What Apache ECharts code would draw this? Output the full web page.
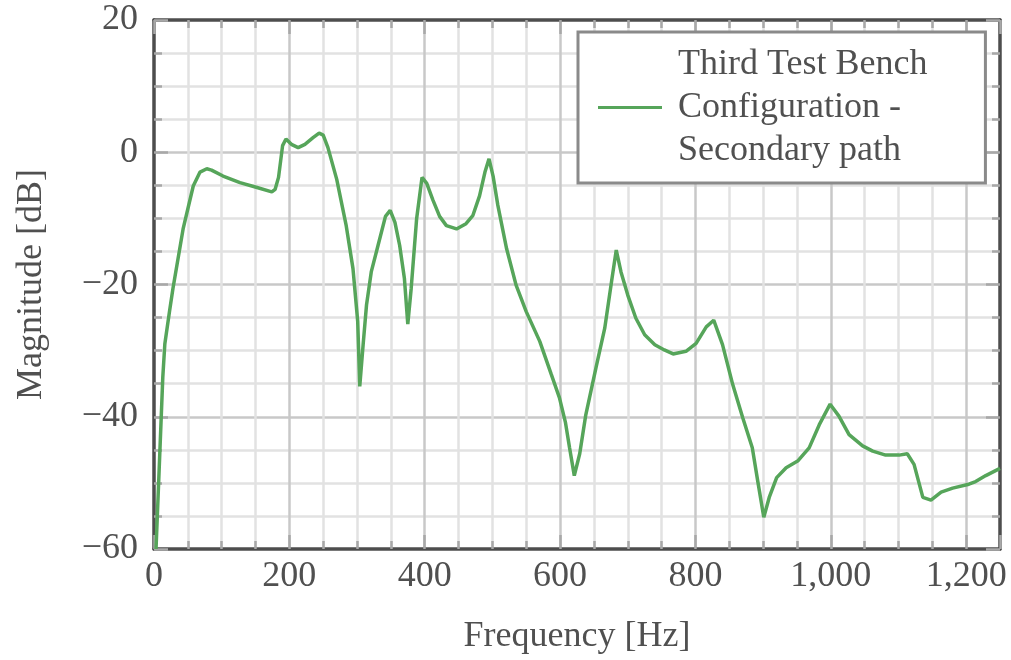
<!DOCTYPE html>
<html lang="en">
<head>
    <meta charset="UTF-8">
    <title>Secondary path</title>
    <style>
        html, body { margin: 0; padding: 0; background: #fff; }
        #chart { width: 1011px; height: 660px; }
    </style>
    <script src="https://cdn.jsdelivr.net/npm/echarts@6/dist/echarts.min.js"></script>
</head>
<body>
    <div id="chart"></div>
    <script>
        // data
        const seriesName = 'Third Test Bench\nConfiguration -\nSecondary path';
        const freq = [3, 13, 16, 23, 28, 43, 58, 68, 78, 85, 102, 127, 151, 174, 179, 184, 190, 195, 203, 213,
            223, 235, 244, 250, 257, 270, 284, 294, 301, 304, 309, 314, 321, 331, 342, 349, 356, 363, 370, 375,
            380, 388, 396, 403, 412, 422, 432, 447, 461, 471, 481, 489, 495, 501, 508, 521, 535, 550, 570, 587,
            599, 608, 614, 621, 629, 638, 653, 666, 676, 683, 690, 700, 712, 725, 740, 754, 767, 786, 801, 816,
            827, 840, 855, 870, 884, 892, 901, 909, 920, 934, 951, 968, 983, 999, 1012, 1027, 1047, 1062, 1081, 1101,
            1113, 1123, 1136, 1148, 1163, 1180, 1204, 1214, 1229, 1250];
        const magnitude = [-60, -34, -29, -24, -20.6, -11.6, -5.1, -3, -2.5, -2.7, -3.6, -4.6, -5.3, -6, -5.6, -3.8, 1, 2, 1.2, 0.7,
            1.2, 2.2, 2.9, 2.6, 0.7, -4.1, -11.1, -17.6, -25.6, -35.4, -29.1, -23.1, -18.1, -14.1, -9.7, -8.8, -10.6, -14.1, -19.1, -26,
            -20.6, -10.1, -3.8, -4.7, -7.2, -9.7, -11.1, -11.6, -10.8, -9.6, -6.6, -3, -1, -3.6, -8, -14.6, -20.1, -24.1, -28.6, -33.6,
            -37.1, -40.9, -44.7, -48.9, -45.6, -39.7, -32.6, -26.6, -19.6, -14.8, -18.1, -21.6, -25.1, -27.6, -29.1, -29.9, -30.5, -30.1, -28.9, -26.4,
            -25.4, -29.1, -35.1, -40.2, -44.7, -49.7, -55.2, -52.2, -49.2, -47.7, -46.7, -44.7, -41.2, -38.1, -39.9, -42.7, -44.4, -45.2, -45.8, -45.8,
            -45.6, -47.2, -52.2, -52.6, -51.4, -50.8, -50.2, -49.8, -48.9, -47.8];
        const xTicks = [0, 200, 400, 600, 800, 1000, 1200];
        const yTicks = [-60, -40, -20, 0, 20];

        const font = '"Liberation Serif", "DejaVu Serif", serif';
        const textColor = '#505050';
        const frameColor = '#4d4d4d';
        const tickColor = '#a8a8a8';
        const majorGrid = '#c8c8c8';
        const minorGrid = '#e2e2e2';

        const fmt = v => {
            const s = Math.abs(v).toLocaleString('en-US');
            return v < 0 ? '\u2212' + s : s;
        };

        const chart = echarts.init(document.getElementById('chart'));

        // base x axis: step 50 so the minor grid lines land on 50 Hz
        // (first line drawn is 50 Hz because the min line is hidden)
        function xAxisMinor(pos, main) {
            return {
                type: 'value', position: pos, min: 0, max: 1250, interval: 50,
                axisLine: { show: true, onZero: false, lineStyle: { color: frameColor, width: 3.5 } },
                axisTick: { show: true, inside: true, length: 8, lineStyle: { color: tickColor, width: 2.5 } },
                axisLabel: {
                    show: main, margin: 10, fontFamily: font, fontSize: 36, color: textColor,
                    formatter: v => (xTicks.indexOf(v) >= 0 ? fmt(v) : '')
                },
                splitLine: {
                    show: main, showMinLine: false, showMaxLine: false,
                    lineStyle: { color: [minorGrid, minorGrid, minorGrid, majorGrid], width: 2.5 }
                },
                name: main ? 'Frequency [Hz]' : '',
                nameLocation: 'middle', nameGap: 70,
                nameTextStyle: { fontFamily: font, fontSize: 36, color: textColor }
            };
        }
        function xAxisMajor(pos) {
            return {
                type: 'value', position: pos, min: 0, max: 1250, interval: 200,
                axisLine: { show: false, onZero: false },
                axisTick: { show: true, inside: true, length: 14, lineStyle: { color: tickColor, width: 2.5 } },
                axisLabel: { show: false },
                splitLine: { show: false }
            };
        }
        function yAxis(pos, main) {
            return {
                type: 'value', position: pos, min: -60, max: 20, interval: 20,
                axisLine: { show: true, onZero: false, lineStyle: { color: frameColor, width: 3.5 } },
                axisTick: { show: true, inside: true, length: 14, lineStyle: { color: tickColor, width: 2.5 } },
                minorTick: { show: true, splitNumber: 4, length: 8, lineStyle: { color: tickColor, width: 2.5 } },
                axisLabel: {
                    show: main, margin: 16, fontFamily: font, fontSize: 36, color: textColor,
                    formatter: v => (yTicks.indexOf(v) >= 0 ? fmt(v) : '')
                },
                splitLine: { show: main, showMinLine: false, showMaxLine: false, lineStyle: { color: majorGrid, width: 2.5 } },
                minorSplitLine: { show: main, lineStyle: { color: minorGrid, width: 2.5 } },
                name: main ? 'Magnitude [dB]' : '',
                nameLocation: 'middle', nameGap: 104,
                nameTextStyle: { fontFamily: font, fontSize: 36, color: textColor }
            };
        }

        chart.setOption({
            backgroundColor: '#fff',
            animation: false,
            grid: { left: 154, top: 20, right: 11, bottom: 108 },
            xAxis: [xAxisMinor('bottom', true), xAxisMajor('bottom'), xAxisMinor('top', false), xAxisMajor('top')],
            yAxis: [yAxis('left', true), yAxis('right', false)],
            legend: {
                left: 578, top: 32,
                orient: 'vertical',
                icon: 'rect', itemWidth: 64, itemHeight: 3,
                padding: [11, 58, 11, 20],
                borderColor: '#8a8a8a', borderWidth: 3,
                backgroundColor: '#fff',
                textStyle: { fontFamily: font, fontSize: 36, lineHeight: 43, color: textColor, padding: [0, 0, 0, 11] }
            },
            series: [{
                name: seriesName,
                type: 'line',
                xAxisIndex: 0, yAxisIndex: 0,
                showSymbol: false, symbol: 'none',
                lineStyle: { color: '#56a55a', width: 3.5 },
                itemStyle: { color: '#56a55a' },
                data: freq.map((f, i) => [f, magnitude[i]]),
                z: 5
            }]
        });
    </script>
</body>
</html>
